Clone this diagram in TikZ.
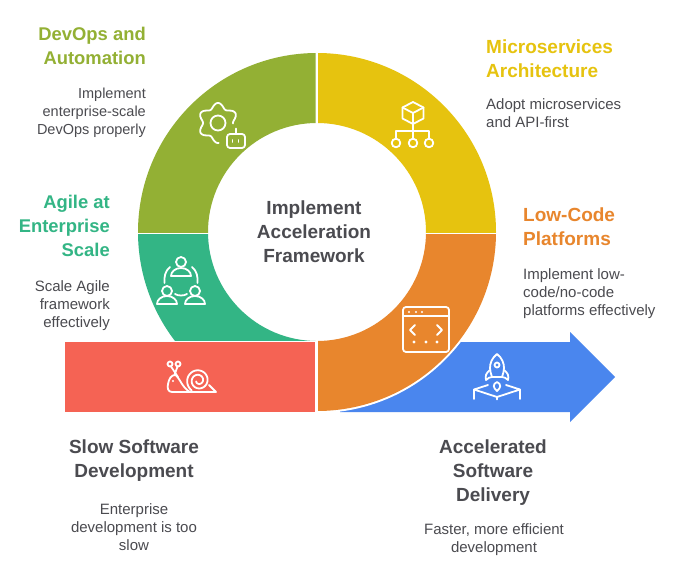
\documentclass[tikz,border=0pt]{standalone}
\usepackage{fontspec}
\setmainfont{Liberation Sans}
\definecolor{olive}{HTML}{93B034}
\definecolor{yel}{HTML}{E6C30F}
\definecolor{ora}{HTML}{E8862D}
\definecolor{grn}{HTML}{33B585}
\definecolor{rd}{HTML}{F56354}
\definecolor{blu}{HTML}{4A86EE}
\definecolor{txt}{HTML}{4B4B50}
\tikzset{
 head/.style={font=\fontsize{19}{24}\selectfont\bfseries,inner sep=0pt},
 headsm/.style={font=\fontsize{18.4}{24}\selectfont\bfseries,inner sep=0pt},
 body/.style={font=\fontsize{15}{18}\selectfont,text=txt,inner sep=0pt},
 bodysm/.style={font=\fontsize{14.5}{18}\selectfont,text=txt,inner sep=0pt},
 ttl/.style={font=\fontsize{19}{24}\selectfont\bfseries,text=txt,inner sep=0pt,align=center},
 ico/.style={draw=white,line width=1.8pt,line cap=round,line join=round},
}
\def\ringpath{(317,232) circle (179pt) (317,232) circle (109pt)}
\begin{document}
\begin{tikzpicture}[x=1pt,y=-1pt]
\useasboundingbox (0,0) rectangle (680,575);
\fill[white] (0,0) rectangle (680,575);
% arrow
\fill[blu] (340,342) -- (570,342) -- (570,332) -- (615,377) -- (570,422) -- (570,412) -- (340,412) -- cycle;
% white halo for orange
\begin{scope}
 \clip (318,234) rectangle (520,430);
 \fill[white] (317,232) circle (181pt);
\end{scope}
% ring segments
\begin{scope}\clip (130,40) rectangle (315.5,232);
 \fill[olive,even odd rule] \ringpath;\end{scope}
\begin{scope}\clip (318,40) rectangle (500,232);
 \fill[yel,even odd rule] \ringpath;\end{scope}
\begin{scope}\clip (318,234) rectangle (500,420);
 \fill[ora,even odd rule] \ringpath;\end{scope}
\begin{scope}\clip (130,234) rectangle (315.5,340);
 \fill[grn,even odd rule] \ringpath;\end{scope}
\fill[rd] (65,342) rectangle (315,412);
% gear + robot
\draw[ico] plot[domain=88:362,samples=140] ({218+(17.5-2.5*cos(6*\x))*cos(\x)},{123+(17.5-2.5*cos(6*\x))*sin(\x)});
\draw[ico] (218,123) circle (7.5pt);
\draw[ico,rounded corners=3pt] (227,134) rectangle (245,148);
\draw[ico] (236,134) -- (236,128.5);
\draw[ico] (232.5,140) -- (232.5,142) (238.5,140) -- (238.5,142);
% cube + tree
\draw[ico] (413,102) -- (423.5,107.5) -- (423.5,118.5) -- (413,124) -- (402.5,118.5) -- (402.5,107.5) -- cycle;
\draw[ico] (402.5,107.5) -- (413,113) -- (423.5,107.5) (413,113) -- (413,124);
\draw[ico] (413,124) -- (413,138.5) (396,138.5) -- (396,131) -- (429,131) -- (429,138.5);
\draw[ico] (396,143) circle (4.3pt) (413,143) circle (4.3pt) (429,143) circle (4.3pt);
% people
\draw[ico] (181,262) circle (5pt) (167,291) circle (5pt) (195,291) circle (5pt);
\draw[ico] (171,276) arc[start angle=180,end angle=360,x radius=10pt,y radius=-8pt] -- cycle;
\draw[ico] (157,304) arc[start angle=180,end angle=360,x radius=10pt,y radius=-8pt] -- cycle;
\draw[ico] (185,304) arc[start angle=180,end angle=360,x radius=10pt,y radius=-8pt] -- cycle;
\draw[ico] (170,267) .. controls (165,271) and (164,277) .. (164.5,283);
\draw[ico] (192,267) .. controls (197,271) and (198,277) .. (197.5,283);
\draw[ico] (175,294) .. controls (178,296) and (184,296) .. (187,294);
% snail
\draw[ico] (170,364) circle (2.5pt) (178,364) circle (2.5pt);
\draw[ico] (171,366.5) -- (178,377) (177.5,366.5) -- (174.5,375);
\draw[ico] (190,392) -- (172,392) .. controls (168,392) and (167,388) .. (168,384) .. controls (169,379) and (171,375) .. (175,375) .. controls (179,376) and (182,388) .. (190,392);
\draw[ico] plot[domain=125:880,samples=120] ({198.5+(12-9.5*(\x-125)/755)*cos(\x)},{380.5+(12-9.5*(\x-125)/755)*sin(\x)});
\draw[ico] (190,392) -- (216,392) -- (209,385);
\fill[white] (173,381) circle (1.2pt);
% window
\draw[ico,rounded corners=3pt] (403,307) rectangle (449,352);
\draw[ico] (403,316) -- (449,316);
\foreach \px in {409,416,422}{\fill[white] (\px,312) circle (1.1pt);}
\foreach \px in {414,426,437}{\fill[white] (\px,342) circle (1.7pt);}
\draw[ico] (415,325) -- (410,330) -- (415,335) (437,325) -- (442,330) -- (437,335);
% rocket
\draw[ico] (497,354) .. controls (492,358) and (490,363) .. (490,368) .. controls (490,371) and (491,374) .. (492,377) -- (502,377) .. controls (503,374) and (504,371) .. (504,368) .. controls (504,363) and (502,358) .. (497,354) -- cycle;
\draw[ico] (497,365) circle (2.5pt);
\draw[ico] (490,370) .. controls (486,373) and (485,376) .. (486,380) .. controls (488,378) and (490,377) .. (492,377);
\draw[ico] (504,370) .. controls (508,373) and (509,376) .. (508,380) .. controls (506,378) and (504,377) .. (502,377);
\draw[ico] (497,382) .. controls (492.5,384) and (493,388) .. (497,391) .. controls (501,388) and (501.5,384) .. (497,382) -- cycle;
\draw[ico] (474,399) -- (474,389.5) -- (488,385) (520,399) -- (520,389.5) -- (506,385) (474,389.5) -- (497,397) -- (520,389.5) (497,397) -- (497,399.5);
% texts
\node[ttl] (centre) at (314,232) {Implement\\Acceleration\\Framework};
\node[headsm,text=olive,align=right,anchor=east] (devh) at (146,46) {DevOps and\\Automation};
\node[bodysm,align=right,anchor=east] (devb) at (146,113) {Implement\\enterprise-scale\\DevOps properly};
\node[headsm,text=grn,align=right,anchor=east] (agh) at (110,226) {Agile at\\Enterprise\\Scale};
\node[body,align=right,anchor=east] (agb) at (110,306) {Scale Agile\\framework\\effectively};
\node[head,text=yel,align=left,anchor=west] (mich) at (486,59) {Microservices\\Architecture};
\node[body,align=left,anchor=west] (micb) at (486,113) {Adopt microservices\\and API-first};
\node[head,text=ora,align=left,anchor=west] (lowh) at (523,227) {Low-Code\\Platforms};
\node[body,align=left,anchor=west] (lowb) at (523,294) {Implement low-\\code/no-code\\platforms effectively};
\node[ttl] (slowh) at (134,461) {Slow Software\\Development};
\node[body,align=center] (slowb) at (134,527) {Enterprise\\development is too\\slow};
\node[ttl] (acch) at (493,473) {Accelerated\\Software\\Delivery};
\node[body,align=center] (accb) at (494,540) {Faster, more efficient\\development};
\end{tikzpicture}
\end{document}
